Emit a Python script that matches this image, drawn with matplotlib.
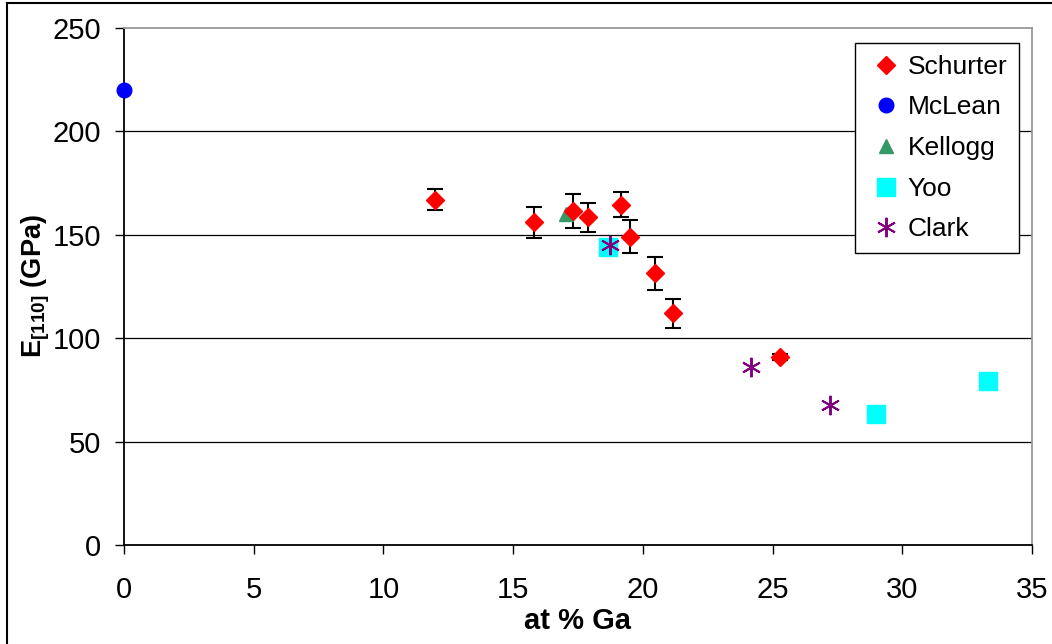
import matplotlib
matplotlib.use("Agg")
import matplotlib.pyplot as plt
from matplotlib.lines import Line2D

plt.rcParams['font.family'] = ['Liberation Sans', 'DejaVu Sans']
plt.rcParams['mathtext.fontset'] = 'custom'
plt.rcParams['mathtext.rm'] = 'Liberation Sans'
plt.rcParams['mathtext.bf'] = 'Liberation Sans:bold'

# datos
schurter_x = [12.0, 15.8, 17.3, 17.9, 19.15, 19.5, 20.45, 21.15, 25.3]
schurter_y = [167, 156, 161.5, 158.5, 164.5, 149, 131.5, 112, 91]
schurter_err = [5, 7.5, 8, 7, 6, 8, 8, 7, 1.5]

mclean_x = [0.0]
mclean_y = [220]

kellogg_x = [17.05]
kellogg_y = [160]

yoo_x = [18.65, 29.0, 33.3]
yoo_y = [144, 63.5, 79.5]

clark_x = [18.75, 24.15, 27.2]
clark_y = [145, 86, 67.5]

xticks = [0, 5, 10, 15, 20, 25, 30, 35]
yticks = [0, 50, 100, 150, 200, 250]

fig = plt.figure(figsize=(10.52, 6.44), dpi=100)
ax = fig.add_axes([124/1052, 1 - 545/644, 908/1052, 517/644])

# marco exterior
fig.add_artist(Line2D([7/1052, 7/1052], [0, 1 - 3/644], color='black', lw=1.5, transform=fig.transFigure))
fig.add_artist(Line2D([7/1052, 1], [1 - 3/644, 1 - 3/644], color='black', lw=1.5, transform=fig.transFigure))

for v in yticks[1:-1]:
	ax.axhline(v, color='black', lw=0.9, zorder=1)

ax.errorbar(schurter_x, schurter_y, yerr=schurter_err, fmt='none', ecolor='black',
	elinewidth=1.5, capsize=5.5, capthick=1.5, zorder=3)

ax.plot(mclean_x, mclean_y, 'o', color='#0000FF', ms=10.5, ls='none', label='McLean', zorder=4, clip_on=False)
ax.plot(kellogg_x, kellogg_y, '^', color='#339966', ms=10, ls='none', label='Kellogg', zorder=3)
ax.plot(yoo_x, yoo_y, 's', color='#00FFFF', ms=13, ls='none', label='Yoo', zorder=3)
ax.plot(clark_x, clark_y, marker=(6, 2, 0), color='#800080', mec='#800080', mew=1.4, ms=14,
	ls='none', label='Clark', zorder=5)
ax.plot(schurter_x, schurter_y, 'D', color='#FF0000', ms=8.7, ls='none', label='Schurter', zorder=4)

ax.set_xlim(0, 35)
ax.set_ylim(0, 250)
ax.set_xticks(xticks)
ax.set_yticks(yticks)
ax.tick_params(direction='out', length=6.5, width=1, labelsize=21, colors='black')
ax.tick_params(axis='x', pad=16)
ax.tick_params(axis='y', pad=10)

ax.spines['left'].set_color('black')
ax.spines['bottom'].set_color('black')
ax.spines['top'].set_color('#999999')
ax.spines['right'].set_color('#999999')
for s in ax.spines.values():
	s.set_linewidth(1.3)

ax.set_xlabel('at % Ga', fontsize=21, fontweight='bold', labelpad=2)
ax.set_ylabel(r'$\mathbf{E}_{\mathbf{[110]}}$ (GPa)', fontsize=19.5, fontweight='bold', labelpad=0)

handles, labels = ax.get_legend_handles_labels()
orden = ['Schurter', 'McLean', 'Kellogg', 'Yoo', 'Clark']
hmap = dict(zip(labels, handles))
leg = ax.legend([hmap[k] for k in orden], orden, loc='upper right', bbox_to_anchor=(0.9857, 0.971),
	fontsize=19, frameon=True, fancybox=False, edgecolor='black', framealpha=1,
	handlelength=1.5, handletextpad=0.05, labelspacing=0.63, borderpad=0.45, borderaxespad=0)
leg.get_frame().set_linewidth(1.0)

fig.savefig('out.png', dpi=100)
